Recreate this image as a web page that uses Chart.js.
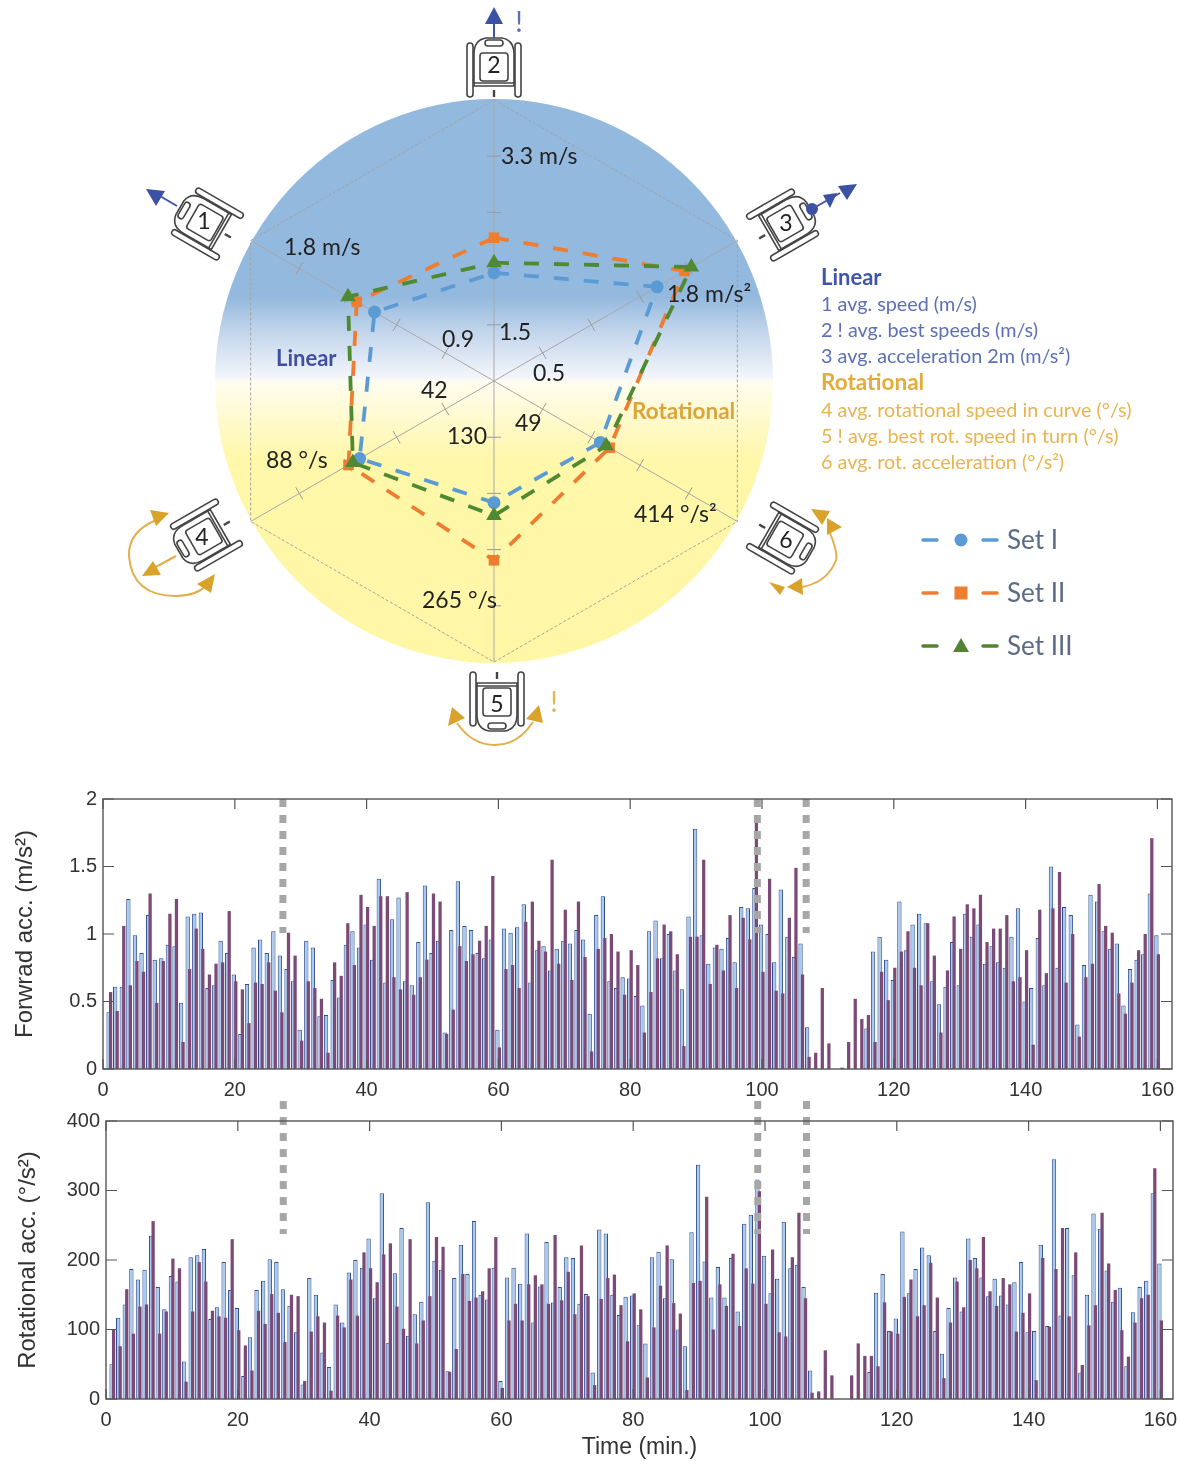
<!DOCTYPE html>
<html>
<head>
<meta charset="utf-8">
<title>Set comparison</title>
<script src="https://cdn.jsdelivr.net/npm/chart.js@4"></script>
<style>
body { margin: 0; background: #fff; }
#page { position: relative; width: 1181px; height: 1461px; overflow: hidden; }
canvas, svg { position: absolute; left: 0; }
#g_radar { top: 0; }
#g_forward { top: 780px; }
#g_rotation { top: 1090px; }
svg { top: 0; pointer-events: none; }
svg text { font-family: Lato, "Noto Sans", sans-serif; }
.val { font-size: 23px; fill: #222; dominant-baseline: central; }
.lin { fill: #5d70b6; font-size: 19.8px; dominant-baseline: central; }
.rot { fill: #e8b450; font-size: 19.8px; dominant-baseline: central; }
.set { fill: #5b6b86; font-size: 26px; dominant-baseline: central; }
.num { font-size: 23px; fill: #222; text-anchor: middle; dominant-baseline: central; }
</style>
</head>
<body>
<div id="page">
<canvas id="g_radar" width="1181" height="760"></canvas>
<canvas id="g_forward" width="1181" height="330"></canvas>
<canvas id="g_rotation" width="1181" height="371"></canvas>

<svg width="1181" height="760">
  <defs>
    <g id="chair" fill="#fff" stroke="#444" stroke-width="1.6">
      <rect x="-27" y="-23" width="6" height="54" rx="3"/>
      <rect x="21" y="-23" width="6" height="54" rx="3"/>
      <path d="M-20 -12 Q-20 -26 -8 -28 H8 Q20 -26 20 -12 V20 H-20 Z"/>
      <rect x="-14" y="-13" width="28" height="28" rx="3"/>
      <rect x="-9" y="-26" width="18" height="6" rx="3"/>
      <line x1="-20" y1="17" x2="20" y2="17"/>
      <line x1="0" y1="24" x2="0" y2="31" stroke-width="2.4"/>
    </g>
  </defs>

  <!-- chairs round the circle -->
  <use href="#chair" transform="translate(204 222) rotate(-60)"/>
  <use href="#chair" transform="translate(494 66)"/>
  <use href="#chair" transform="translate(786 223) rotate(60)"/>
  <use href="#chair" transform="translate(203 537) rotate(-120)"/>
  <use href="#chair" transform="translate(497 703) rotate(180)"/>
  <use href="#chair" transform="translate(786 540) rotate(120)"/>
  <text class="num" x="204" y="220">1</text>
  <text class="num" x="494" y="64">2</text>
  <text class="num" x="786" y="222">3</text>
  <text class="num" x="202" y="536">4</text>
  <text class="num" x="497" y="703">5</text>
  <text class="num" x="786" y="539">6</text>

  <!-- linear arrows -->
  <g stroke="#3f55a5" stroke-width="2" fill="#3b52a4">
    <line x1="494" y1="38" x2="494" y2="20"/>
    <path d="M494 7 L503 24 H485 Z" stroke="none"/>
    <line x1="177" y1="206" x2="160" y2="196"/>
    <path d="M146 189 L165 191 L156 206 Z" stroke="none"/>
    <circle cx="812" cy="209" r="6" stroke="none"/>
    <line x1="812" y1="209" x2="840" y2="193"/>
    <path d="M823 195 L837 193 L830 208 Z M838 186 L857 184 L847 200 Z" stroke="none"/>
  </g>
  <text x="519" y="21" text-anchor="middle" dominant-baseline="central" fill="#5d70b6" font-size="28">!</text>

  <!-- rotation arrows -->
  <g fill="none" stroke="#e3ae4c" stroke-width="2">
    <path d="M156 520 Q128 532 129 556 Q132 596 176 596 Q196 596 207 585"/>
    <line x1="176" y1="556" x2="152" y2="569"/>
    <path d="M457 723 Q472 745 495 745 Q518 745 533 722"/>
    <path d="M830 533 Q838 553 836 560 Q828 582 802 587"/>
  </g>
  <g fill="#d9a22b">
    <path d="M150 510 L169 513 L156 526 Z M215 574 L197 584 L211 593 Z M142 576 L161 575 L153 561 Z"/>
    <path d="M452 707 L465 718 L448 726 Z M539 705 L543 723 L526 719 Z"/>
    <path d="M811 509 L830 511 L822 525 Z M842 527 L827 518 L827 535 Z M769 582 L785 587 L780 595 Z M787 587 L802 578 L803 595 Z"/>
  </g>
  <text x="554" y="701" text-anchor="middle" dominant-baseline="central" fill="#e8b450" font-size="28">!</text>

  <!-- values on the axes -->
  <text class="val" x="501" y="155">3.3 m/s</text>
  <text class="val" x="284" y="246">1.8 m/s</text>
  <text class="val" x="667" y="293">1.8 m/s²</text>
  <text class="val" x="442" y="338">0.9</text>
  <text class="val" x="499" y="331">1.5</text>
  <text class="val" x="533" y="372">0.5</text>
  <text class="val" x="421" y="389">42</text>
  <text class="val" x="447" y="435">130</text>
  <text class="val" x="515" y="422">49</text>
  <text class="val" x="266" y="459">88 °/s</text>
  <text class="val" x="634" y="513">414 °/s²</text>
  <text class="val" x="422" y="599">265 °/s</text>
  <text x="276" y="357" dominant-baseline="central" font-size="22" font-weight="700" fill="#3f4fa3">Linear</text>
  <text x="632" y="410" dominant-baseline="central" font-size="22.500" font-weight="700" fill="#dba53c">Rotational</text>

  <!-- key on the right -->
  <text x="821" y="276" dominant-baseline="central" font-size="22" font-weight="700" fill="#3f55a8">Linear</text>
  <text class="lin" x="821" y="303">1 avg. speed (m/s)</text>
  <text class="lin" x="821" y="329">2 ! avg. best speeds (m/s)</text>
  <text class="lin" x="821" y="355">3 avg. acceleration 2m (m/s²)</text>
  <text x="821" y="381" dominant-baseline="central" font-size="22.500" font-weight="700" fill="#e4ab3d">Rotational</text>
  <text class="rot" x="821" y="409">4 avg. rotational speed in curve (°/s)</text>
  <text class="rot" x="821" y="435">5 ! avg. best rot. speed in turn (°/s)</text>
  <text class="rot" x="821" y="461">6 avg. rot. acceleration (°/s²)</text>

  <!-- sets -->
  <g stroke-width="3.5" stroke-linecap="round">
    <g stroke="#5b9bd5"><line x1="923" y1="540" x2="937" y2="540"/><line x1="983" y1="540" x2="997" y2="540"/></g>
    <g stroke="#ed7d31"><line x1="923" y1="593" x2="937" y2="593"/><line x1="983" y1="593" x2="997" y2="593"/></g>
    <g stroke="#548235"><line x1="923" y1="646" x2="937" y2="646"/><line x1="983" y1="646" x2="997" y2="646"/></g>
  </g>
  <circle cx="961" cy="540" r="6.5" fill="#5b9bd5"/>
  <rect x="954.500" y="586.500" width="13" height="13" fill="#ed7d31"/>
  <path d="M961 638 L969 652 H953 Z" fill="#548235"/>
  <text class="set" x="1007" y="539">Set I</text>
  <text class="set" x="1007" y="592">Set II</text>
  <text class="set" x="1007" y="645">Set III</text>
</svg>
</div>

<script>
// radar, % of each axis, clockwise from the top chair
const radarAxes = ['2', '3', '6', '5', '4', '1'];
const setI = [38.5, 67, 43.7, 43.3, 55.2, 49.1];
const setII = [51, 78.3, 47.5, 63.8, 59.8, 56.4];
const setIII = [42.1, 81.1, 46.1, 47.9, 58, 60];
const radarTicks = [20, 40, 60, 80];

// forward acc. (m/s2), one value per minute 1..160
const fwdBlue = [
  .42,.61,.61,1.26,.99,.86,1.14,.81,.82,.92,
  .91,.49,1.13,1.15,1.16,.60,.62,.95,.86,.70,
  .26,.63,.90,.96,.86,1.02,.84,.74,.65,.29,
  .95,.90,.39,.40,.66,.53,.92,1.02,.90,1.07,
  .81,1.41,.64,1.11,1.27,.65,.62,.94,1.36,.86,
  .95,.27,1.03,1.39,1.06,1.03,.86,.82,.96,.29,
  1.04,1.01,1.05,1.22,.64,.88,.91,.73,.89,.95,
  .93,1.03,.96,.41,1.14,1.28,.65,.60,.68,.67,
  .54,.47,1.02,1.10,.82,1.00,.73,.59,1.13,1.78,
  .99,.78,.90,.89,.97,.79,1.20,1.19,1.34,1.07,
  1.00,.79,1.33,.98,.83,.93,.31,.01,0,0,
  0,0,0,0,0,.30,.87,.98,.81,.66,
  1.24,.88,1.07,1.15,1.08,.65,.48,.61,.94,.62,
  1.15,.98,1.07,.78,.91,.79,.75,.98,1.19,.50,
  .60,.97,.62,1.50,.75,1.20,1.14,.33,.77,1.29,
  1.24,1.02,.89,.93,.47,.74,.81,.85,1.30,.99
];
const fwdPurple = [
  .57,.43,1.06,.62,.80,.72,1.30,.49,.80,1.15,
  1.26,.20,.74,1.04,.89,.70,.78,.79,1.17,.65,
  .59,.34,.64,.63,.79,.58,.42,1.01,.84,.21,
  .65,.60,.52,.12,.79,.69,1.08,.77,1.29,1.20,
  1.06,1.28,1.28,.68,.59,1.31,.55,.68,.81,1.30,
  1.24,.26,.44,.91,.80,.85,.95,1.06,1.43,.16,
  .74,.77,.60,1.09,1.24,.95,.87,1.55,.78,1.18,
  .66,1.24,.83,.13,.89,.97,1.00,.87,.55,.88,
  .77,.27,.57,.82,1.07,1.02,.85,.17,.98,.98,
  1.55,.63,.92,.73,1.14,.60,1.12,.96,1.83,.72,
  1.41,.58,.56,1.12,1.49,.70,.09,.12,.60,.19,
  0,.01,.20,.52,.37,.40,.20,.72,.51,.75,
  .87,1.02,.75,.62,1.08,.84,.27,.73,1.13,.89,
  1.22,1.19,1.29,.94,1.04,1.04,1.14,.65,.68,.88,
  .18,1.18,.71,1.19,1.46,.64,1.00,.24,.68,.78,
  1.37,1.06,1.01,.56,.41,.64,.88,1.00,1.71,.85
];

// rotational acc. (deg/s2)
const rotBlue = [
  50,117,136,187,172,186,235,161,129,177,
  169,54,204,207,216,115,132,197,157,131,
  33,89,157,170,201,197,158,134,96,21,
  174,150,67,46,136,110,182,200,189,231,
  145,296,81,181,246,91,122,140,283,199,
  186,40,174,222,180,256,150,143,189,26,
  175,189,166,238,110,162,226,139,161,204,
  203,137,151,38,244,238,150,121,147,149,
  106,80,204,212,145,201,100,76,240,337,
  198,146,190,146,203,126,252,265,316,206,
  152,173,255,188,193,161,41,0,0,0,
  0,0,0,0,0,39,153,180,98,116,
  241,152,187,218,207,98,65,131,175,126,
  231,203,175,148,173,149,136,168,197,96,
  98,222,105,345,120,246,178,38,150,267,
  245,185,140,160,47,125,161,170,296,195
];
const rotPurple = [
  100,76,158,94,133,136,256,94,126,202,
  188,25,126,197,169,127,119,117,230,99,
  77,41,127,108,151,124,82,150,148,26,
  97,119,110,12,120,103,172,120,211,188,
  168,208,224,133,101,230,80,113,148,233,
  219,39,72,180,141,146,155,188,233,16,
  113,137,113,165,178,165,137,236,142,183,
  122,221,148,20,144,174,179,135,83,152,
  129,31,103,163,221,138,123,13,167,170,
  291,100,165,134,209,105,188,166,299,137,
  215,96,90,204,268,145,9,11,70,34,
  0,0,34,80,62,62,47,139,97,94,
  147,172,119,135,196,146,30,110,169,132,
  200,188,233,155,134,174,165,97,124,152,
  27,203,104,187,246,119,211,49,106,135,
  268,195,157,99,61,110,145,150,332,113
];

// grey dotted lines, in minutes
const marksTop = [27.3, 99.3, 106.7];
const marksBottom = [26.9, 98.9, 106.3];

const radarDeco = {
    id: 'radarDeco',
    beforeDraw(chart) {
        const c = chart.ctx, s = chart.scales.r;
        const g = c.createLinearGradient(0, s.yCenter - s.drawingArea, 0, s.yCenter + s.drawingArea);
        g.addColorStop(0, '#94b9de');
        g.addColorStop(0.35, '#94b9de');
        g.addColorStop(0.415, '#c4d6ec');
        g.addColorStop(0.495, '#f4f6fb');
        g.addColorStop(0.5, '#fffdf0');
        g.addColorStop(0.64, '#fff7a9');
        g.addColorStop(1, '#fff7a6');
        c.save();
        c.fillStyle = g;
        c.beginPath();
        c.ellipse(s.xCenter, s.yCenter, 279, 282, 0, 0, Math.PI * 2);
        c.fill();
        c.restore();
    },
    beforeDatasetsDraw(chart) {
        // small cross ticks on every axis
        const c = chart.ctx, s = chart.scales.r;
        c.save();
        c.strokeStyle = '#9a9a9a';
        c.lineWidth = 1;
        radarAxes.forEach((a, i) => {
            radarTicks.forEach(v => {
                const p = s.getPointPositionForValue(i, v);
                const nx = -(p.y - s.yCenter) / (v / 100 * s.drawingArea);
                const ny = (p.x - s.xCenter) / (v / 100 * s.drawingArea);
                c.beginPath();
                c.moveTo(p.x - nx * 7, p.y - ny * 7);
                c.lineTo(p.x + nx * 7, p.y + ny * 7);
                c.stroke();
            });
        });
        c.restore();
    }
};

function radarSet (_label, _data, _color, _point, _size, _order) {
    return {
        label: _label,
        data: _data,
        order: _order,
        borderColor: _color,
        backgroundColor: _color,
        borderWidth: 3.8,
        borderDash: [15, 15],
        pointStyle: _point,
        pointRadius: _size,
        pointBackgroundColor: _color,
        pointBorderWidth: 0,
        fill: false
    };
}

new Chart(document.getElementById('g_radar').getContext('2d'), {
    type: 'radar',
    data: {
        labels: radarAxes,
        datasets: [
            radarSet('Set I', setI, '#5b9bd5', 'circle', 6.5, 2),
            radarSet('Set II', setII, '#ed7d31', 'rect', 7.5, 1),
            radarSet('Set III', setIII, '#4f8a33', 'triangle', 9, 0)
        ]
    },
    options: {
        responsive: false,
        animation: false,
        layout: { padding: { left: 213, right: 406, top: 100, bottom: 98 } },
        plugins: { legend: { display: false }, tooltip: { enabled: false } },
        scales: {
            r: {
                min: 0,
                max: 100,
                ticks: { display: false, stepSize: 100 },
                pointLabels: { display: false },
                grid: { color: '#a3a3a3', lineWidth: 1 },
                border: { dash: [3, 2] },
                angleLines: { color: '#a8a8a8', lineWidth: 1 }
            }
        }
    },
    plugins: [radarDeco]
});

function tbody (_id, _blue, _purple, _ymax, _ystep, _title, _marks, _box, _dash, _xtitle) {
    const canvas = document.getElementById(_id);
    const top = parseInt(getComputedStyle(canvas).top);
    const frame = {
        id: 'frame',
        afterDraw(chart) {
            const c = chart.ctx, a = chart.chartArea, x = chart.scales.x, y = chart.scales.y;
            c.save();
            // dotted lines first, they run up past the box
            c.strokeStyle = '#a6a6a6';
            c.lineWidth = 7;
            c.setLineDash([8, 8]);
            _marks.forEach(m => {
                const px = x.getPixelForValue(m);
                c.beginPath();
                c.moveTo(px, _dash[0] - top);
                c.lineTo(px, _dash[1] - top);
                c.stroke();
            });
            c.setLineDash([]);
            c.strokeStyle = '#555';
            c.lineWidth = 1.4;
            c.strokeRect(a.left, a.top, a.right - a.left, a.bottom - a.top);
            c.lineWidth = 1.2;
            c.beginPath();
            x.ticks.forEach(t => {
                const px = x.getPixelForValue(t.value);
                c.moveTo(px, a.top); c.lineTo(px, a.top + 10);
                c.moveTo(px, a.bottom); c.lineTo(px, a.bottom - 10);
            });
            y.ticks.forEach(t => {
                const py = y.getPixelForValue(t.value);
                c.moveTo(a.left, py); c.lineTo(a.left + 11, py);
                c.moveTo(a.right, py); c.lineTo(a.right - 11, py);
            });
            c.stroke();
            c.restore();
        }
    };
    const _config = {
        type: 'bar',
        data: {
            datasets: [{
                label: 'purple',
                data: _purple.map((v, i) => ({ x: i + 1 + 0.15, y: v })),
                backgroundColor: '#7b4a76',
                borderWidth: 0,
                barPercentage: 1.65,
                categoryPercentage: 1
            }, {
                label: 'blue',
                data: _blue.map((v, i) => ({ x: i + 1 - 0.15, y: v })),
                backgroundColor: '#a9c9ee',
                borderColor: '#2f4d8f',
                borderWidth: 1,
                barPercentage: 2.2,
                categoryPercentage: 1
            }]
        },
        options: {
            responsive: false,
            animation: false,
            grouped: false,
            layout: { padding: { top: _box.top - top, right: 1181 - _box.right, bottom: 0 } },
            plugins: { legend: { display: false }, tooltip: { enabled: false } },
            scales: {
                x: {
                    type: 'linear',
                    offset: false,
                    min: 0,
                    max: (_box.right - _box.left) / 6.59,
                    grid: { display: false, drawTicks: false, offset: false },
                    border: { display: false },
                    ticks: {
                        stepSize: 20,
                        includeBounds: false,
                        maxRotation: 0,
                        autoSkip: false,
                        padding: 9,
                        color: '#333',
                        font: { family: 'Liberation Sans', size: 20 }
                    },
                    title: {
                        display: !!_xtitle,
                        text: _xtitle,
                        color: '#333',
                        padding: 0,
                        font: { family: 'Liberation Sans', size: 23 }
                    },
                    afterFit: s => { s.height = _box.xh; s.paddingLeft = 0; s.paddingRight = 0; }
                },
                y: {
                    min: 0,
                    max: _ymax,
                    grid: { display: false, drawTicks: false },
                    border: { display: false },
                    ticks: {
                        stepSize: _ystep,
                        padding: 6,
                        color: '#333',
                        font: { family: 'Liberation Sans', size: 20 },
                        callback: v => v
                    },
                    title: {
                        display: true,
                        text: _title,
                        color: '#333',
                        padding: { top: _box.left - 92, bottom: 0 },
                        font: { family: 'Liberation Sans', size: 24 }
                    },
                    afterFit: s => { s.width = _box.left; s.paddingTop = 0; s.paddingBottom = 0; }
                }
            }
        },
        plugins: [frame]
    };
    return new Chart(canvas.getContext('2d'), _config);
}

tbody('g_forward', fwdBlue, fwdPurple, 2, 0.5, 'Forwrad acc. (m/s²)', marksTop,
    { left: 103, right: 1172, top: 799, xh: 41 }, [799, 933], '');
tbody('g_rotation', rotBlue, rotPurple, 400, 100, 'Rotational acc. (°/s²)', marksBottom,
    { left: 106, right: 1173, top: 1121, xh: 62 }, [1101, 1234], 'Time (min.)');
</script>
</body>
</html>
